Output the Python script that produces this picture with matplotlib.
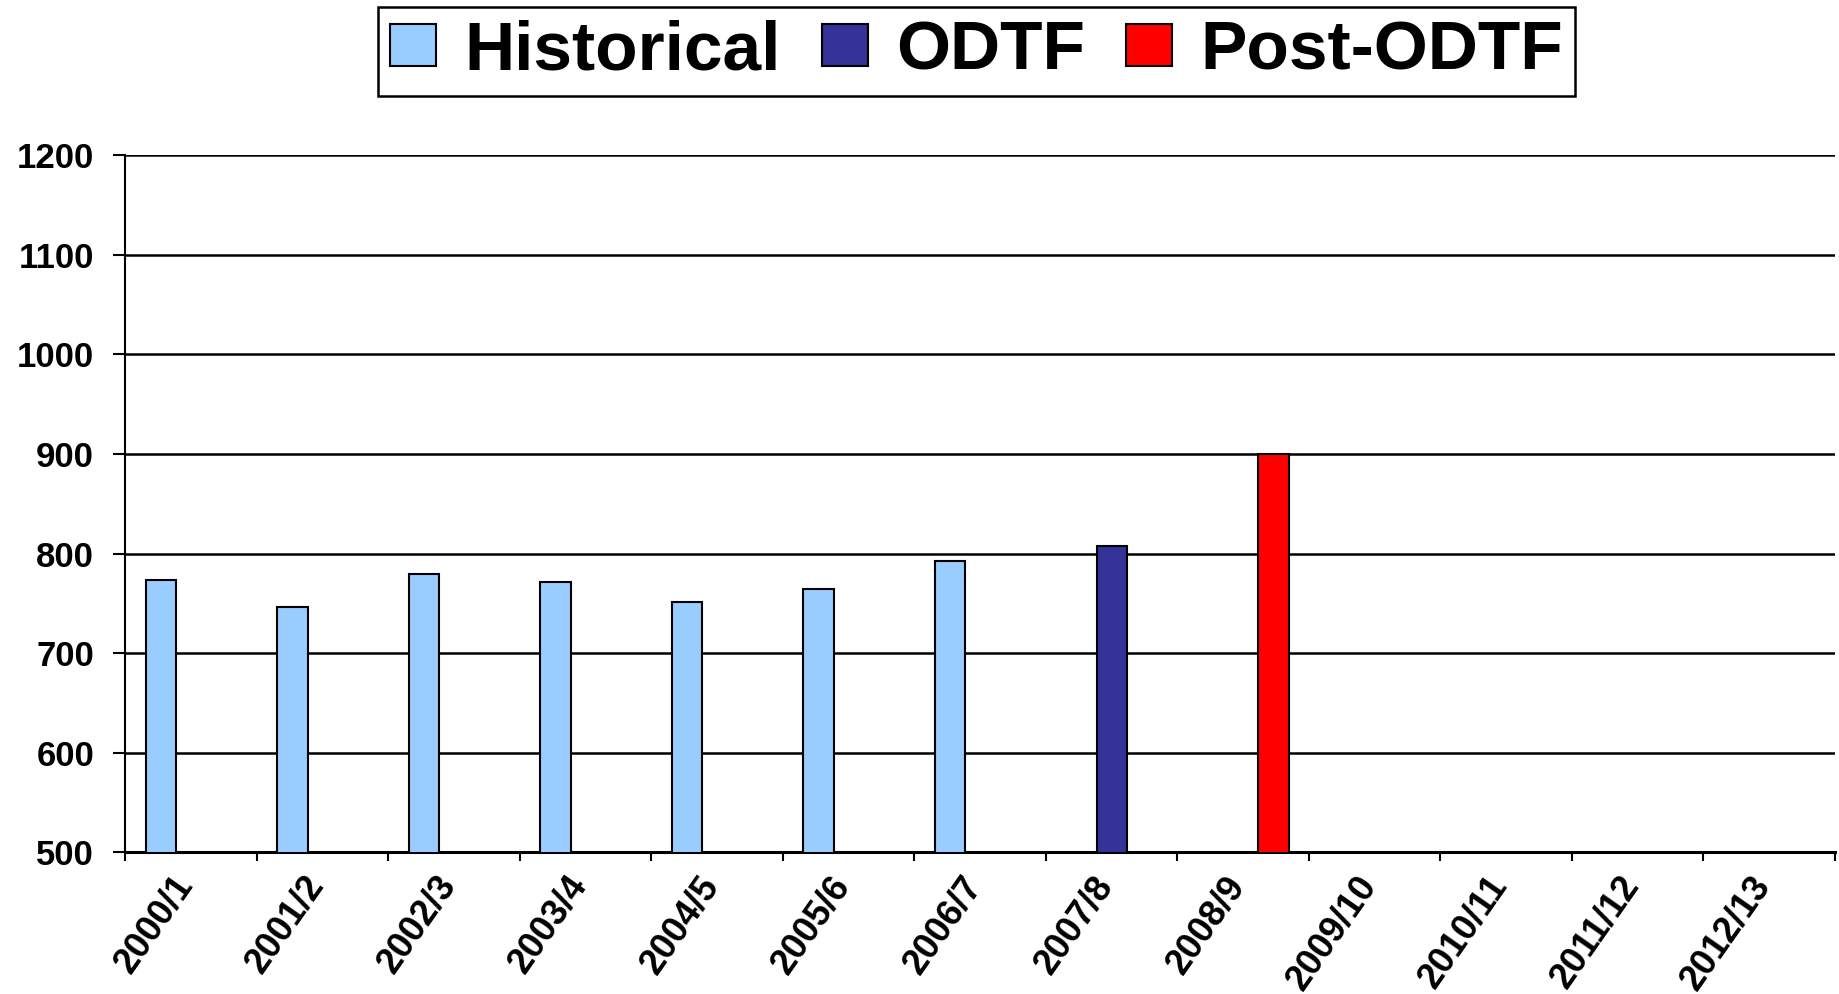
import numpy as np
import matplotlib
matplotlib.use('Agg')
import matplotlib.pyplot as plt
from matplotlib.patches import Patch
from matplotlib.transforms import ScaledTranslation

# --- data ---
years = ['2000/1', '2001/2', '2002/3', '2003/4', '2004/5', '2005/6', '2006/7',
         '2007/8', '2008/9', '2009/10', '2010/11', '2011/12', '2012/13']
historical = [773, 746, 779, 771, 751, 764, 793]   # 2000/1 .. 2006/7
odtf = [808]                                        # 2007/8
post_odtf = [900]                                   # 2008/9

COLORS = {'Historical': '#99CCFF', 'ODTF': '#333399', 'Post-ODTF': '#FF0000'}
BAR_W = 0.23

plt.rcParams['font.family'] = ['Liberation Sans', 'DejaVu Sans']
plt.rcParams['font.weight'] = 'bold'

fig = plt.figure(figsize=(18.39, 9.94), dpi=100)
ax = fig.add_axes([0.0682, 0.1424, 0.9296, 0.7017])

x = np.arange(len(years))
# clustered bars: each series has its own slot within the category
ax.bar(x[:7] - BAR_W, historical, BAR_W, color=COLORS['Historical'],
       edgecolor='black', linewidth=1.5, zorder=3)
ax.bar(x[7:8], odtf, BAR_W, color=COLORS['ODTF'],
       edgecolor='black', linewidth=1.5, zorder=3)
ax.bar(x[8:9] + BAR_W, post_odtf, BAR_W, color=COLORS['Post-ODTF'],
       edgecolor='black', linewidth=1.5, zorder=3)

ax.set_ylim(500, 1200)
ax.set_xlim(-0.5, len(years) - 0.5)
ax.set_yticks(range(500, 1201, 100))
ax.yaxis.grid(True, color='black', linewidth=1.8, zorder=1)
ax.set_axisbelow(True)

for s in ['top', 'right']:
    ax.spines[s].set_visible(False)
ax.spines['left'].set_linewidth(1.5)
ax.spines['bottom'].set_linewidth(2.2)

ax.tick_params(axis='y', direction='out', length=8.6, width=1.5, pad=14,
               labelsize=25)
for lbl in ax.get_yticklabels():
    lbl.set_fontweight('bold')

# category labels at centres, tick marks on the boundaries
ax.set_xticks(x)
ax.set_xticklabels(years, rotation=55, ha='right', va='top', rotation_mode='anchor',
                   fontsize=26, fontweight='bold')
ax.tick_params(axis='x', which='major', length=0, pad=12)
shift = ScaledTranslation(-20 / 100, 0, fig.dpi_scale_trans)
for lbl in ax.get_xticklabels():
    lbl.set_transform(lbl.get_transform() + shift)
ax.set_xticks(np.arange(-0.5, len(years), 1.0), minor=True)
ax.tick_params(axis='x', which='minor', direction='out', length=6.5, width=1.5)

handles = [Patch(facecolor=c, edgecolor='black', linewidth=1.5, label=k)
           for k, c in COLORS.items()]
leg = fig.legend(handles=handles, loc='upper center', bbox_to_anchor=(0.531, 0.993),
                 ncol=3, prop={'weight': 'bold', 'size': 50},
                 handlelength=0.66, handleheight=0.56, handletextpad=0.4,
                 columnspacing=0.6, borderpad=0.18, borderaxespad=0,
                 fancybox=False, edgecolor='black', framealpha=1)
leg.get_frame().set_linewidth(1.8)

fig.savefig('out.png', dpi=100)
